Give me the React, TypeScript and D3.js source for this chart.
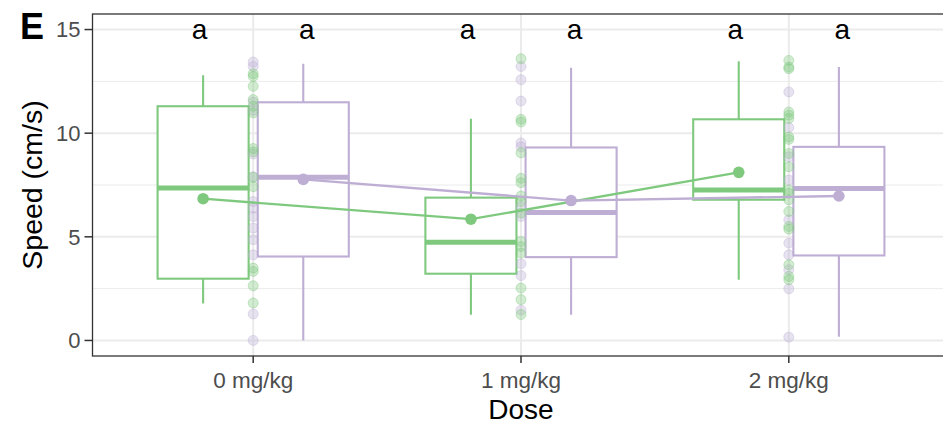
import React from 'react';
import * as d3 from 'd3';

// categories
const doses = ['0 mg/kg', '1 mg/kg', '2 mg/kg'];
const yTicks = [0, 5, 10, 15];
const yMinor = [2.5, 7.5, 12.5];
const sigLetters = ['a', 'a', 'a', 'a', 'a', 'a'];

// green group, box stats per dose
const greenLow = [1.78, 1.24, 2.93];
const greenQ1 = [2.98, 3.22, 6.79];
const greenMedian = [7.35, 4.74, 7.26];
const greenQ3 = [11.3, 6.89, 10.67];
const greenHigh = [12.8, 10.7, 13.47];
const greenMean = [6.84, 5.85, 8.11];

// purple group, box stats per dose
const purpleLow = [0.0, 1.24, 0.18];
const purpleQ1 = [4.05, 4.02, 4.1];
const purpleMedian = [7.87, 6.17, 7.33];
const purpleQ3 = [11.49, 9.31, 9.34];
const purpleHigh = [13.35, 13.16, 13.19];
const purpleMean = [7.77, 6.75, 6.97];

// individual animals
const greenPoints = [
  [12.87, 12.74, 12.26, 11.62, 11.3, 10.98, 9.26, 9.1, 7.87, 7.42, 3.49, 3.33, 2.64, 1.81],
  [13.59, 10.67, 10.54, 9.05, 7.82, 7.61, 6.97, 6.7, 6.14, 4.77, 4.53, 4.22, 2.53, 1.97, 1.25],
  [13.51, 13.19, 13.11, 11.02, 10.87, 10.71, 9.82, 9.7, 9.02, 8.38, 7.26, 7.1, 6.78, 6.22, 5.5, 5.37, 3.65, 3.09, 2.93],
];
const purplePoints = [
  [13.43, 13.22, 11.5, 11.1, 9.0, 7.9, 6.7, 6.38, 5.98, 5.42, 4.86, 4.13, 1.28, 0.0],
  [13.22, 12.58, 11.55, 9.53, 9.34, 6.46, 5.98, 3.7, 3.13, 1.46],
  [11.99, 10.27, 8.86, 7.74, 5.82, 4.7, 4.13, 3.41, 2.49, 0.16],
];

const GREEN = '#7fc97f';
const PURPLE = '#beaed4';
const FONT = '"Liberation Sans", Arial, sans-serif';

const width = 943;
const height = 425;
const panel = { left: 92.5, right: 949.5, top: 14, bottom: 356 };

const x = d3.scaleLinear().domain([-0.6, 2.6]).range([panel.left, panel.right]);
const y = d3.scaleLinear().domain([-0.75, 15.75]).range([panel.bottom, panel.top]);

const dodge = 0.187;
const boxW = 0.34;
const labelDodge = 0.2;

type Group = {
  color: string;
  offset: number;
  low: number[];
  q1: number[];
  med: number[];
  q3: number[];
  high: number[];
  mean: number[];
};

const groups: Group[] = [
  { color: GREEN, offset: -dodge, low: greenLow, q1: greenQ1, med: greenMedian, q3: greenQ3, high: greenHigh, mean: greenMean },
  { color: PURPLE, offset: dodge, low: purpleLow, q1: purpleQ1, med: purpleMedian, q3: purpleQ3, high: purpleHigh, mean: purpleMean },
];

const meanLine = d3.line<number>()
  .x((_, i) => x(i))
  .y(d => y(d));

export default function App() {
  return (
    <svg width={width} height={height}
      style={{ position: 'absolute', left: 0, top: 0, background: '#fff' }}
      fontFamily={FONT}>
      <defs>
        <clipPath id="panel">
          <rect x={panel.left} y={panel.top} width={panel.right - panel.left} height={panel.bottom - panel.top} />
        </clipPath>
      </defs>
      <rect x={0} y={0} width={width} height={height} fill="#fff" />

      {/* grid */}
      <g clipPath="url(#panel)">
        {yMinor.map(t => (
          <line key={'m' + t} x1={panel.left} x2={panel.right} y1={y(t)} y2={y(t)} stroke="#ebebeb" strokeWidth={1} />
        ))}
        {yTicks.map(t => (
          <line key={'g' + t} x1={panel.left} x2={panel.right} y1={y(t)} y2={y(t)} stroke="#ebebeb" strokeWidth={2} />
        ))}
        {doses.map((d, i) => (
          <line key={d} x1={x(i)} x2={x(i)} y1={panel.top} y2={panel.bottom} stroke="#ebebeb" strokeWidth={2} />
        ))}

        {/* boxes */}
        {groups.map((g, gi) => doses.map((d, i) => {
          const cx = x(i + g.offset);
          const x0 = x(i + g.offset - boxW / 2);
          const x1 = x(i + g.offset + boxW / 2);
          return (
            <g key={gi + d} stroke={g.color} strokeWidth={2.1} fill="none">
              <line x1={cx} x2={cx} y1={y(g.high[i])} y2={y(g.q3[i])} />
              <line x1={cx} x2={cx} y1={y(g.q1[i])} y2={y(g.low[i])} />
              <rect x={x0} y={y(g.q3[i])} width={x1 - x0} height={y(g.q1[i]) - y(g.q3[i])} fill="#fff" />
              <line x1={x0} x2={x1} y1={y(g.med[i])} y2={y(g.med[i])} strokeWidth={5} />
            </g>
          );
        }))}

        {/* raw points */}
        {[purplePoints, greenPoints].map((set, si) => set.map((vals, i) => vals.map((v, k) => (
          <circle key={si + '-' + i + '-' + k} cx={x(i)} cy={y(v)} r={5}
            fill={si === 0 ? PURPLE : GREEN} fillOpacity={0.35}
            stroke={si === 0 ? PURPLE : GREEN} strokeOpacity={0.4} strokeWidth={1} />
        ))))}

        {/* mean lines */}
        {groups.map((g, gi) => (
          <g key={'mean' + gi} transform={`translate(${x(g.offset) - x(0)},0)`}>
            <path d={meanLine(g.mean) || ''} fill="none" stroke={g.color} strokeWidth={2.3} />
            {g.mean.map((v, i) => (
              <circle key={i} cx={x(i)} cy={y(v)} r={5.8} fill={g.color} />
            ))}
          </g>
        ))}

        {/* significance letters */}
        {doses.map((d, i) => [-labelDodge, labelDodge].map((off, j) => (
          <text key={d + j} x={x(i + off)} y={y(15)} dy="0.35em" textAnchor="middle" fontSize={28} fill="#000">
            {sigLetters[i * 2 + j]}
          </text>
        )))}
      </g>

      {/* panel border */}
      <rect x={panel.left} y={panel.top} width={panel.right - panel.left} height={panel.bottom - panel.top}
        fill="none" stroke="#333" strokeWidth={1.3} />

      {/* y axis */}
      {yTicks.map(t => (
        <g key={'yt' + t}>
          <line x1={panel.left - 8} x2={panel.left} y1={y(t)} y2={y(t)} stroke="#333" strokeWidth={1.5} />
          <text x={panel.left - 12} y={y(t)} dy="0.36em" textAnchor="end" fontSize={22} fill="#4d4d4d">{t}</text>
        </g>
      ))}

      {/* x axis */}
      {doses.map((d, i) => (
        <g key={'xt' + d}>
          <line x1={x(i)} x2={x(i)} y1={panel.bottom} y2={panel.bottom + 7} stroke="#333" strokeWidth={1.5} />
          <text x={x(i)} y={388} textAnchor="middle" fontSize={22.5} fill="#4d4d4d">{d}</text>
        </g>
      ))}

      <text x={x(1)} y={419} textAnchor="middle" fontSize={28} fill="#000">Dose</text>
      <text transform={`translate(42,${(panel.top + panel.bottom) / 2}) rotate(-90)`} textAnchor="middle" fontSize={28.5} fill="#000">
        Speed (cm/s)
      </text>
      <text x={20} y={39} fontSize={36} fontWeight="bold" fill="#000">E</text>
    </svg>
  );
}
